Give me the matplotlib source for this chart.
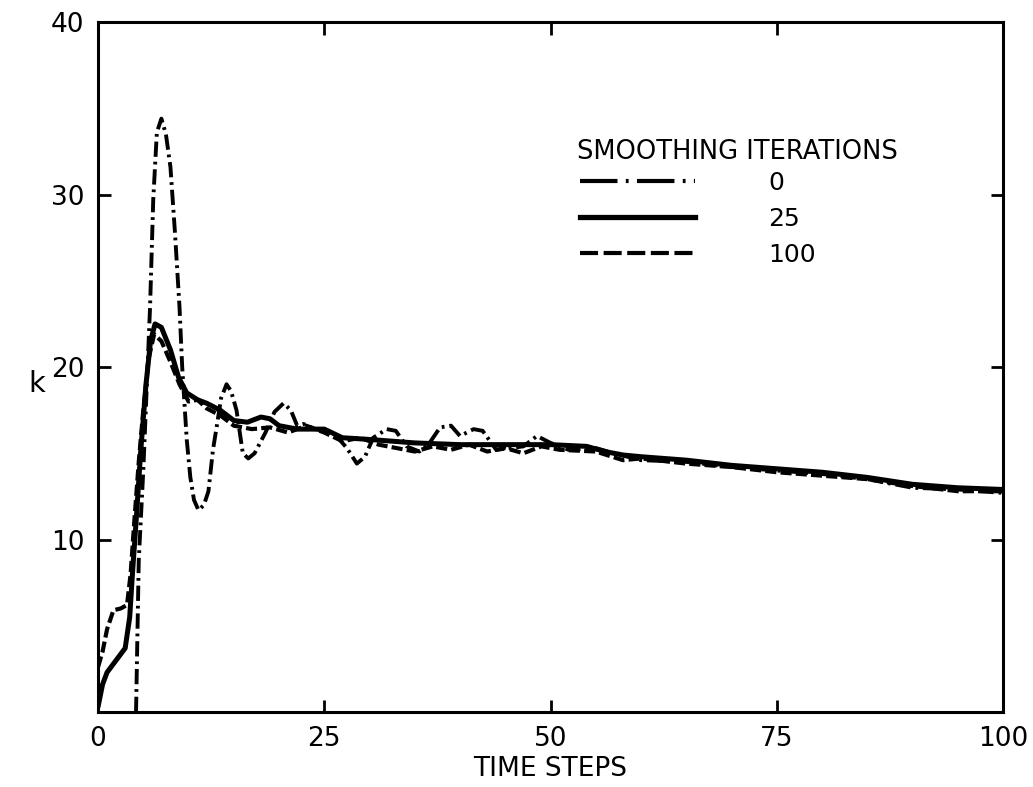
#!/usr/bin/python3
# -*- coding: utf-8 -*-
import matplotlib
matplotlib.use("Agg")
import matplotlib.pyplot as plt
from matplotlib.lines import Line2D

plt.rcParams['font.family'] = ['DejaVu Sans']
plt.rcParams['lines.scale_dashes'] = False

# smoothing iterations = 0 (dash-dot)
t0 = [4.2, 4.5, 5.0, 5.75, 6.1, 6.5, 7.0, 7.5, 8.0, 8.5, 9.0, 9.3, 9.8, 10.2,
      10.6, 11.1, 11.7, 12.2, 12.7, 13.1, 13.6, 14.2, 14.7, 15.3, 16.0, 16.6,
      17.3, 18.5, 19.5, 20.5, 21.3, 22.0, 22.7, 24.0, 26.0, 27.5, 28.6, 29.5,
      30.4, 31.9, 32.9, 34.1, 35.5, 36.5, 37.8, 39.0, 40.0, 41.5, 42.5, 44.0,
      45.5, 47.0, 48.5, 50.0, 52.0, 55.0, 57.0, 60.0, 65.0, 70.0, 75.0, 80.0,
      85.0, 90.0, 95.0, 100.0]
k0 = [0.0, 8.8, 14.0, 23.5, 29.7, 33.6, 34.4, 33.5, 31.6, 27.8, 23.5, 20.0, 15.8,
      13.6, 12.3, 11.7, 12.0, 12.8, 15.2, 16.5, 18.2, 19.0, 18.6, 17.5, 15.0,
      14.7, 15.0, 16.2, 17.4, 17.9, 17.5, 16.6, 16.7, 16.4, 16.2, 15.3, 14.4,
      14.8, 15.9, 16.4, 16.3, 15.4, 15.1, 15.5, 16.5, 16.6, 16.0, 16.4, 16.3,
      15.2, 15.3, 15.4, 16.0, 15.6, 15.2, 15.3, 15.0, 14.6, 14.5, 14.2, 14.0,
      13.8, 13.5, 13.0, 12.9, 12.7]

# smoothing iterations = 25 (solid)
t25 = [0.0, 0.5, 1.0, 2.0, 3.0, 3.5, 3.8, 4.2, 4.7, 5.3, 5.8, 6.3, 7.0, 8.0,
       8.9, 9.8, 11.0, 12.0, 13.5, 15.0, 16.5, 18.0, 19.0, 20.0, 22.0, 25.0,
       27.0, 30.0, 35.0, 40.0, 45.0, 50.0, 54.0, 56.0, 58.0, 60.0, 65.0, 70.0,
       75.0, 80.0, 85.0, 90.0, 95.0, 100.0]
k25 = [0.3, 1.6, 2.3, 3.0, 3.7, 5.5, 8.0, 11.0, 15.0, 19.0, 21.5, 22.5, 22.3,
       21.0, 19.4, 18.5, 18.1, 17.9, 17.5, 16.9, 16.8, 17.1, 17.0, 16.6, 16.4,
       16.4, 15.9, 15.8, 15.6, 15.5, 15.5, 15.5, 15.4, 15.1, 14.9, 14.8, 14.6,
       14.3, 14.1, 13.9, 13.6, 13.2, 13.0, 12.9]

# smoothing iterations = 100 (dashed)
t100 = [0.0, 0.5, 1.0, 1.7, 2.5, 3.2, 3.6, 4.0, 4.5, 5.0, 5.6, 6.2, 7.0, 8.0,
        9.0, 10.0, 11.0, 12.0, 13.5, 15.0, 17.0, 19.0, 21.0, 23.0, 25.0, 27.0,
        29.0, 31.0, 33.0, 35.0, 37.0, 39.0, 41.0, 43.0, 45.0, 47.0, 49.0, 51.0,
        55.0, 58.0, 60.0, 65.0, 70.0, 75.0, 80.0, 85.0, 90.0, 95.0, 100.0]
k100 = [2.6, 3.5, 4.8, 5.9, 6.0, 6.2, 8.0, 11.0, 14.5, 17.5, 20.5, 21.9, 21.5,
        20.3, 19.0, 18.0, 18.1, 17.6, 17.2, 16.6, 16.4, 16.5, 16.2, 16.6, 16.2,
        15.7, 15.9, 15.5, 15.3, 15.1, 15.4, 15.2, 15.5, 15.1, 15.3, 15.0, 15.4,
        15.2, 15.1, 14.6, 14.7, 14.4, 14.2, 13.9, 13.7, 13.5, 13.1, 12.8, 12.8]

x_ticks = [0, 25, 50, 75, 100]
y_ticks = [10, 20, 30, 40]
legend_labels = ['0', '25', '100']


def draw():
    fig = plt.figure(figsize=(10.33, 7.87), dpi=100)
    ax = fig.add_axes([0.0949, 0.0953, 0.8761, 0.8767])

    dashdot = (0, (11, 3.5, 2, 3.5))
    dashed = (0, (8, 3))
    ax.plot(t0, k0, color='black', lw=2.8, linestyle=dashdot,
            dash_joinstyle='round')
    ax.plot(t25, k25, color='black', lw=3.6, solid_joinstyle='round',
            solid_capstyle='round')
    ax.plot(t100, k100, color='black', lw=3.0, linestyle=dashed,
            dash_joinstyle='round')

    ax.set_xlim(0, 100)
    ax.set_ylim(0, 40)
    ax.set_xticks(x_ticks)
    ax.set_yticks(y_ticks)
    ax.set_xticklabels([str(v) for v in x_ticks])
    ax.set_yticklabels([str(v) for v in y_ticks])
    ax.tick_params(direction='in', length=9, width=2, labelsize=19,
                   top=True, right=True, pad=10)
    for s in ax.spines.values():
        s.set_linewidth(2.2)

    ax.set_xlabel('TIME STEPS', fontsize=19, labelpad=3)
    ax.text(-0.068, 0.475, 'k', transform=ax.transAxes, fontsize=21,
            ha='center', va='center')

    # legend
    handles = [
        Line2D([], [], color='black', lw=3, linestyle=(0, (27, 6, 2, 6))),
        Line2D([], [], color='black', lw=3.8),
        Line2D([], [], color='black', lw=3, linestyle=(0, (13, 4))),
    ]
    ax.legend(handles, legend_labels, loc='upper left',
              bbox_to_anchor=(0.533, 0.784), frameon=False, fontsize=18,
              handlelength=4.6, handletextpad=2.9, labelspacing=0.48,
              borderpad=0, borderaxespad=0)
    ax.text(0.706, 0.811, 'SMOOTHING ITERATIONS', transform=ax.transAxes,
            fontsize=18.5, ha='center', va='center')

    fig.savefig('out.png', dpi=100)
    plt.close(fig)


if __name__ == "__main__":
    draw()
